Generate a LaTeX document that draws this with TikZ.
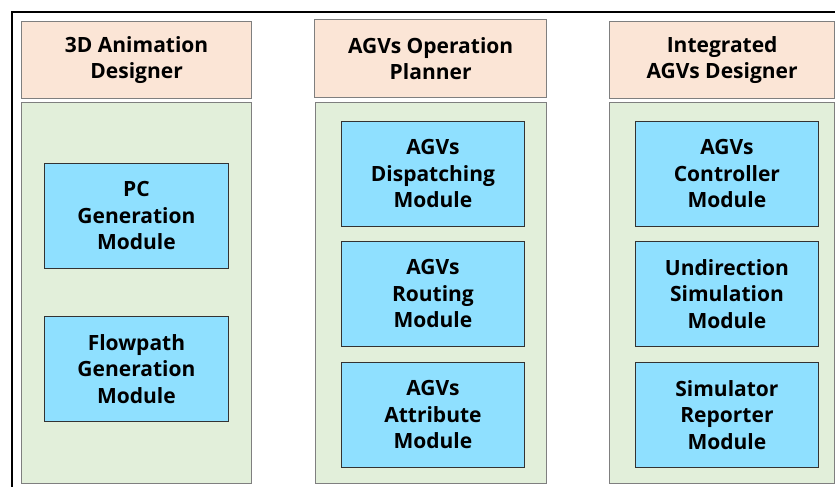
\documentclass[tikz,border=0pt]{standalone}
\usepackage{fontspec}
\setmainfont{Open Sans}
\definecolor{headfill}{HTML}{FBE5D6}
\definecolor{panelfill}{HTML}{E2EFDA}
\definecolor{boxfill}{HTML}{8FE0FF}
\definecolor{panelline}{HTML}{7F7F7F}
\definecolor{boxline}{HTML}{333333}
\tikzset{
  header/.style={draw=panelline, line width=1.3pt, fill=headfill, anchor=north west, inner sep=0pt,
    align=center, font=\fontsize{21}{25.5}\selectfont\bfseries},
  panel/.style={draw=panelline, line width=1.3pt, fill=panelfill, anchor=north west, inner sep=0pt},
  modbox/.style={draw=boxline, line width=0.9pt, fill=boxfill, anchor=north west, inner sep=0pt,
    align=center, font=\fontsize{21}{26.5}\selectfont\bfseries},
}
\begin{document}
\begin{tikzpicture}[x=1pt,y=-1pt]
\useasboundingbox (0,0) rectangle (835,487);
% outer frame
\coordinate (fa) at (12,487);
\coordinate (fb) at (12,12);
\coordinate (fc) at (836,12);
\draw[line width=2pt, black] (fa) -- (fb) -- (fc);
% column 1
\node[header, minimum width=230pt, minimum height=77pt] (h1) at (21,21) {3D Animation\\Designer};
\node[panel, minimum width=230pt, minimum height=381pt] (p1) at (21,102) {};
\node[modbox, minimum width=184pt, minimum height=105pt] (m11) at (44,163) {PC\\Generation\\Module};
\node[modbox, minimum width=184pt, minimum height=105pt] (m12) at (44,316) {Flowpath\\Generation\\Module};
% column 2
\node[header, minimum width=232pt, minimum height=78pt] (h2) at (314,19) {AGVs Operation\\Planner};
\node[panel, minimum width=231pt, minimum height=381pt] (p2) at (315,102) {};
\node[modbox, minimum width=183pt, minimum height=105pt] (m21) at (341,121) {AGVs\\Dispatching\\Module};
\node[modbox, minimum width=183pt, minimum height=105pt] (m22) at (341,241) {AGVs\\Routing\\Module};
\node[modbox, minimum width=183pt, minimum height=105pt] (m23) at (341,362) {AGVs\\Attribute\\Module};
% column 3
\node[header, minimum width=225pt, minimum height=77pt] (h3) at (609,21) {Integrated\\AGVs Designer};
\node[panel, minimum width=225pt, minimum height=381pt] (p3) at (609,102) {};
\node[modbox, minimum width=183pt, minimum height=105pt] (m31) at (635,121) {AGVs\\Controller\\Module};
\node[modbox, minimum width=183pt, minimum height=105pt] (m32) at (635,241) {Undirection\\Simulation\\Module};
\node[modbox, minimum width=183pt, minimum height=105pt] (m33) at (635,362) {Simulator\\Reporter\\Module};
\end{tikzpicture}
\end{document}
